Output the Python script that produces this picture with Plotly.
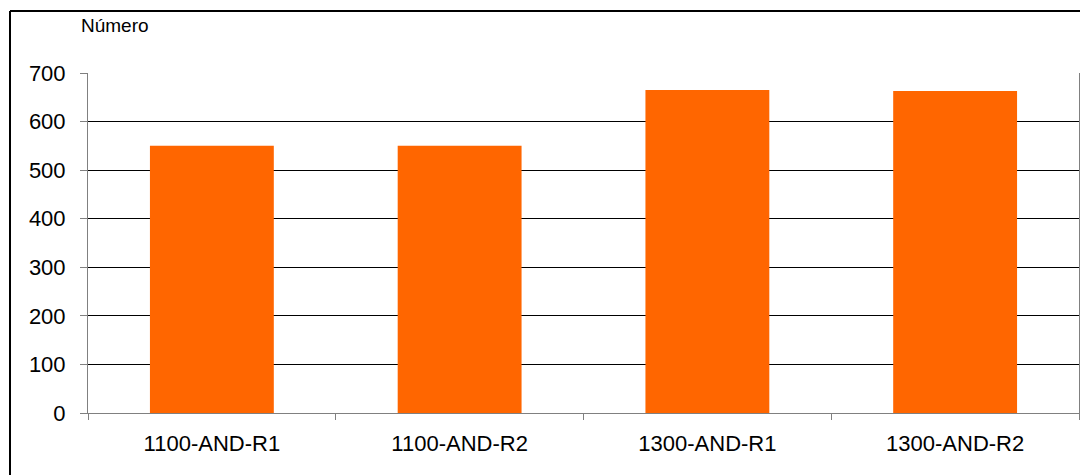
import plotly.graph_objects as go

categories = ["1100-AND-R1", "1100-AND-R2", "1300-AND-R1", "1300-AND-R2"]
values = [550, 550, 665, 663]
y_ticks = [0, 100, 200, 300, 400, 500, 600, 700]
y_title = "Número"

W, H = 1080, 475
L, R, T, B = 88, 1, 73, 62
pw, ph = W - L - R, H - T - B

def px_x(px):
    return (px - L) / pw

def px_y(py):
    return (H - B - py) / ph

fig = go.Figure(go.Bar(x=categories, y=values, marker=dict(color="#FF6600", line=dict(width=0))))

fig.update_layout(
    width=W, height=H,
    margin=dict(l=L, r=R, t=T, b=B),
    paper_bgcolor="white", plot_bgcolor="white",
    bargap=0.5,
    showlegend=False,
    font=dict(family="Liberation Sans, Arial, sans-serif", size=22, color="black"),
    xaxis=dict(
        showgrid=False, showline=True, linecolor="#808080", linewidth=1,
        ticks="outside", tickson="boundaries", ticklen=6, tickcolor="#808080",
        tickfont=dict(size=22), zeroline=False, ticklabelstandoff=11,
    ),
    yaxis=dict(
        range=[0, 700], tickvals=y_ticks, showgrid=True, gridcolor="black", gridwidth=1,
        showline=True, linecolor="#808080", linewidth=1, mirror=True,
        ticks="outside", ticklen=7, tickcolor="#808080", tickfont=dict(size=22),
        zeroline=False, ticklabelstandoff=10,
    ),
    annotations=[dict(
        text=y_title, xref="paper", yref="paper", x=px_x(79), y=px_y(25),
        xanchor="left", yanchor="middle", showarrow=False, font=dict(size=19),
    )],
    shapes=[
        dict(type="line", xref="paper", yref="paper", x0=px_x(10), x1=px_x(1082),
             y0=px_y(11), y1=px_y(11), line=dict(color="black", width=2)),
        dict(type="line", xref="paper", yref="paper", x0=px_x(10), x1=px_x(10),
             y0=px_y(11), y1=px_y(480), line=dict(color="black", width=2)),
    ],
)

fig.write_html(
    "out.html",
    config={"displayModeBar": False},
    post_script="document.body.style.margin='0';document.body.style.overflow='hidden';",
)
